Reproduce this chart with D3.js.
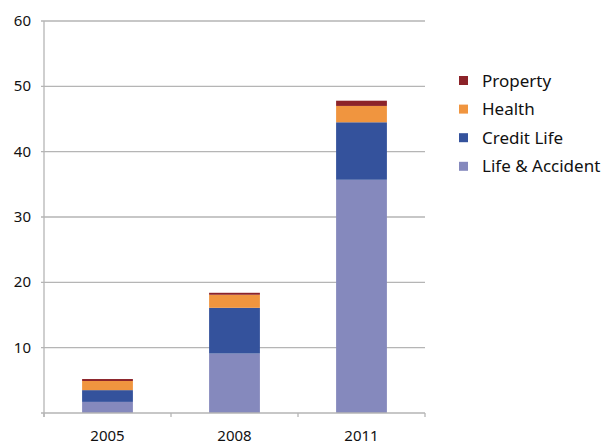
<!DOCTYPE html>
<html>
<head>
<meta charset="utf-8">
<script src="https://cdn.jsdelivr.net/npm/d3@7"></script>
<style>
  body { margin: 0; background: #fff; }
  text { font-family: "Noto Sans", "Open Sans", sans-serif; fill: #111; }
</style>
</head>
<body>
<div id="chart"></div>
<script>
var years = ["2005", "2008", "2011"];
var seriesNames = ["Life & Accident", "Credit Life", "Health", "Property"];
var lifeAccident = [1.7, 9.1, 35.7];
var creditLife = [1.8, 7.0, 8.8];
var health = [1.4, 2.0, 2.5];
var property = [0.3, 0.3, 0.8];
var yTicks = [0, 10, 20, 30, 40, 50, 60];
var colors = ["#8589bd", "#34529c", "#f0953f", "#8c2329"];

var width = 606, height = 445;
var plotLeft = 44, plotRight = 425, plotTop = 21, plotBottom = 413;

var svg = d3.select("#chart").append("svg")
  .attr("width", width)
  .attr("height", height);

var x = d3.scaleBand().domain(years).range([plotLeft, plotRight]).paddingInner(0.6).paddingOuter(0.3);
var y = d3.scaleLinear().domain([0, 60]).range([plotBottom, plotTop]);

// gridlines
svg.append("g").selectAll("line")
  .data(yTicks.slice(1))
  .enter().append("line")
  .attr("x1", plotLeft - 3).attr("x2", plotRight)
  .attr("y1", function (d) { return y(d); })
  .attr("y2", function (d) { return y(d); })
  .style("stroke", "#b5b5b5")
  .style("stroke-width", 1.3);

// y labels
svg.append("g").selectAll("text")
  .data(yTicks.slice(1))
  .enter().append("text")
  .attr("x", 31)
  .attr("y", function (d) { return y(d) + 5; })
  .attr("text-anchor", "end")
  .style("font-size", "15px")
  .text(function (d) { return d; });

// stacked bars
var rows = years.map(function (yr, i) {
  return { year: yr, "Life & Accident": lifeAccident[i], "Credit Life": creditLife[i], "Health": health[i], "Property": property[i] };
});
var stack = d3.stack().keys(seriesNames)(rows);

svg.append("g").selectAll("g")
  .data(stack)
  .enter().append("g")
  .style("fill", function (d, i) { return colors[i]; })
  .selectAll("rect")
  .data(function (d) { return d; })
  .enter().append("rect")
  .attr("x", function (d) { return x(d.data.year); })
  .attr("width", x.bandwidth())
  .attr("y", function (d) { return y(d[1]); })
  .attr("height", function (d) { return y(d[0]) - y(d[1]); });

// axes lines
svg.append("line")
  .attr("x1", plotLeft).attr("x2", plotLeft).attr("y1", plotTop).attr("y2", plotBottom + 4)
  .style("stroke", "#b5b5b5").style("stroke-width", 1.3);
svg.append("line")
  .attr("x1", plotLeft - 3).attr("x2", plotRight).attr("y1", plotBottom).attr("y2", plotBottom)
  .style("stroke", "#b5b5b5").style("stroke-width", 1.3);

// x tick marks at category boundaries
var step = (plotRight - plotLeft) / years.length;
svg.append("g").selectAll("line")
  .data(d3.range(years.length + 1))
  .enter().append("line")
  .attr("x1", function (d) { return plotLeft + d * step; })
  .attr("x2", function (d) { return plotLeft + d * step; })
  .attr("y1", plotBottom).attr("y2", plotBottom + 4)
  .style("stroke", "#b5b5b5").style("stroke-width", 1.3);

// x labels
svg.append("g").selectAll("text")
  .data(years)
  .enter().append("text")
  .attr("x", function (d) { return x(d) + x.bandwidth() / 2; })
  .attr("y", 441)
  .attr("text-anchor", "middle")
  .style("font-size", "15px")
  .text(function (d) { return d; });

// legend
var legendOrder = [3, 2, 1, 0];
var legend = svg.append("g").selectAll("g")
  .data(legendOrder)
  .enter().append("g")
  .attr("transform", function (d, i) { return "translate(459," + (76 + i * 28.6) + ")"; });
legend.append("rect")
  .attr("width", 9).attr("height", 9)
  .style("fill", function (d) { return colors[d]; });
legend.append("text")
  .attr("x", 23).attr("y", 10.5)
  .style("font-size", "17px")
  .text(function (d) { return seriesNames[d]; });
</script>
</body>
</html>
